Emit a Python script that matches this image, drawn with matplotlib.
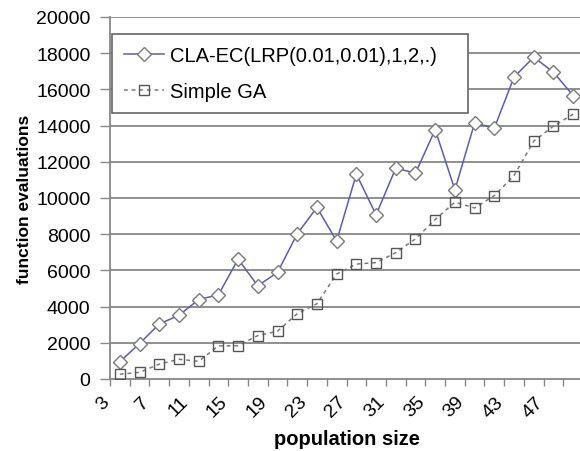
import matplotlib
matplotlib.use('Agg')
import matplotlib.pyplot as plt
import matplotlib.transforms as mtransforms
import numpy as np

plt.rcParams['font.family'] = 'Liberation Sans'

# population sizes 3, 5, ..., 49
pop_size = list(range(3, 50, 2))
cla_ec = [960, 1960, 3040, 3520, 4390, 4650, 6620, 5150, 5890, 8020, 9480, 7620,
          11320, 9070, 11650, 11370, 13780, 10450, 14150, 13860, 16680, 17780, 16950, 15660]
simple_ga = [260, 370, 820, 1090, 980, 1830, 1840, 2400, 2640, 3610, 4160, 5800,
             6350, 6430, 6980, 7740, 8810, 9770, 9450, 10130, 11240, 13140, 13970, 14630]
y_ticks = list(range(0, 20001, 2000))

W, H = 580, 452
fig = plt.figure(figsize=(W / 100, H / 100), dpi=100)
ax = fig.add_axes([110 / W, 1 - 380 / H, 473 / W, (380 - 18) / H])

x = np.arange(len(pop_size))

for yv in y_ticks[1:]:
    ax.axhline(yv, color='#878787', lw=1.3, zorder=1)

ax.plot(x, cla_ec, color='#5b5bc0', lw=1.1, marker='D', ms=7.5,
        mfc='white', mec='#7a7a7a', mew=1.0, zorder=3,
        label='CLA-EC(LRP(0.01,0.01),1,2,.)')
ax.plot(x, simple_ga, color='#7a7a7a', lw=1.1, ls=(0, (2.5, 2.5)), marker='s', ms=7,
        mfc='none', mec='#555555', mew=1.0, zorder=3,
        label='Simple GA')

ax.set_xlim(-0.5, len(pop_size) - 0.5)
ax.set_ylim(0, 20000)

ax.set_yticks(y_ticks)
ax.set_yticklabels([str(v) for v in y_ticks])
ax.tick_params(axis='y', length=7, width=1, color='#878787', pad=7, labelsize=14)

# labels on every other category, tick marks between categories
ax.set_xticks(x[::2])
ax.set_xticklabels([str(p) for p in pop_size[::2]], rotation=45,
                   ha='right', va='top', rotation_mode='anchor')
ax.set_xticks(np.arange(-0.5, len(pop_size)), minor=True)
ax.tick_params(axis='x', which='major', length=0, pad=10, labelsize=14)
ax.tick_params(axis='x', which='minor', length=5, width=1, color='#878787')
shift = mtransforms.ScaledTranslation(-19 / 100, 0, fig.dpi_scale_trans)
for lbl in ax.get_xticklabels():
    lbl.set_transform(lbl.get_transform() + shift)

for side in ['top', 'right']:
    ax.spines[side].set_visible(False)
for side in ['left', 'bottom']:
    ax.spines[side].set_color('#878787')
    ax.spines[side].set_linewidth(1.3)

ax.set_xlabel('population size', fontsize=14.5, fontweight='bold', labelpad=6)
ax.set_ylabel('function evaluations', fontsize=12.5, fontweight='bold', labelpad=3)

leg = ax.legend(loc='upper left',
                bbox_to_anchor=(2 / 473, 1 - 17 / 362, 356 / 473, 0.001),
                mode='expand', fontsize=14.5, frameon=True, fancybox=False,
                borderpad=0.6, handlelength=2.0, handletextpad=0.3,
                labelspacing=0.85, borderaxespad=0)
leg.get_frame().set_edgecolor('#666666')
leg.get_frame().set_linewidth(1.2)
leg.get_frame().set_alpha(1)

fig.savefig('out.png', dpi=100)
